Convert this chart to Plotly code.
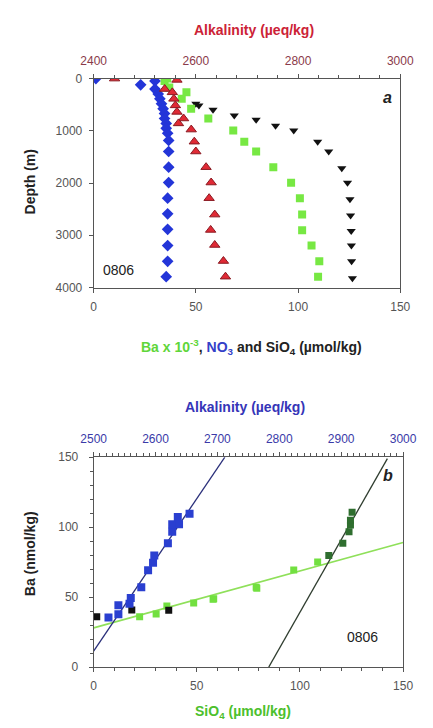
import plotly.graph_objects as go

# ---------------- Panel a: depth profiles, station 0806 ----------------
# NO3 (umol/kg) vs depth (m)
no3_depth = [0, 45, 120, 200, 295, 388, 482, 576, 670, 764, 858, 952, 1046, 1183,
             1396, 1696, 1990, 2290, 2590, 2886, 3198, 3498, 3793]
no3_val = [1.1, 30.0, 23.0, 30.0, 31.6, 32.4, 33.2, 34.0, 34.7, 34.7, 35.5, 35.5, 36.2, 36.7,
           36.7, 36.7, 36.7, 36.2, 36.2, 36.2, 36.2, 36.2, 35.5]

# SiO4 (umol/kg) vs depth (m)
si_depth = [482, 513, 595, 707, 789, 901, 995, 1208, 1396, 1715, 1996, 2310, 2622, 2916, 3198, 3498, 3824]
si_val = [50.0, 51.5, 58.4, 68.8, 79.5, 89.0, 97.9, 109.6, 115.0, 121.4, 124.2, 125.4, 125.7, 126.0,
          126.1, 126.2, 126.6]

# Ba x 10^-3 vs depth (m)
ba_depth = [0, 45, 170, 263, 388, 576, 764, 995, 1208, 1396, 1696, 1996, 2291, 2604, 2904, 3198, 3498, 3793]
ba_val = [36.0, 34.7, 37.0, 45.4, 43.1, 47.7, 56.1, 68.3, 73.7, 79.5, 87.9, 96.6, 100.9, 102.0, 102.0,
          106.6, 110.4, 109.8]

# Alkalinity (ueq/kg) vs depth (m)
alk_depth = [0, 25, 200, 263, 388, 513, 638, 764, 858, 976, 1208, 1396, 1696, 1990, 2290, 2604, 2898,
             3186, 3493, 3793]
alk_val = [2441, 2563, 2539, 2554, 2557, 2560, 2563, 2576, 2566, 2591, 2597, 2600, 2620, 2630, 2626,
           2637, 2629, 2637, 2654, 2658]

# ---------------- Panel b: Ba correlations ----------------
# Ba (nmol/kg) vs alkalinity (ueq/kg)
b_alk = [2524, 2540, 2540, 2558, 2560, 2577, 2588, 2596, 2598, 2620, 2627, 2627, 2638, 2636, 2655]
b_alk_ba = [35.5, 37.8, 44.2, 45.3, 49.3, 57.0, 69.2, 74.5, 79.7, 88.5, 96.7, 102.1, 102.0, 107.2, 109.6]

# Ba (nmol/kg) vs SiO4 (umol/kg), upper waters
b_si = [22.3, 30.3, 35.5, 48.5, 57.9, 58.2, 78.8, 79.1, 97.0, 108.6]
b_si_ba = [36.0, 37.9, 43.7, 45.8, 48.4, 48.8, 57.0, 56.3, 69.4, 75.0]

# Ba (nmol/kg) vs SiO4 (umol/kg), deep waters
b_si_deep = [114.0, 120.8, 123.8, 124.5, 124.5, 125.3]
b_si_deep_ba = [79.7, 88.5, 96.7, 101.5, 105.0, 110.7]

# Surface samples
b_surf_si = [1.5, 18.5, 36.4]
b_surf_ba = [36.0, 40.7, 40.6]

# Regression lines (end points)
fit_alk_x = [2500, 2712]
fit_alk_y = [11.4, 150]
fit_si_x = [0, 150]
fit_si_y = [28, 89]
fit_deep_x = [84.9, 142.4]
fit_deep_y = [0, 149]

FONT = "Liberation Sans, Arial, sans-serif"
W, H = 433, 728

fig = go.Figure()

# Panel a traces
fig.add_trace(go.Scatter(x=si_val, y=si_depth, mode="markers", xaxis="x", yaxis="y",
                         marker=dict(symbol="triangle-down", size=8, color="#111111")))
fig.add_trace(go.Scatter(x=ba_val, y=ba_depth, mode="markers", xaxis="x", yaxis="y",
                         marker=dict(symbol="square", size=8, color="#77e843",
                                     line=dict(width=0))))
fig.add_trace(go.Scatter(x=alk_val, y=alk_depth, mode="markers", xaxis="x2", yaxis="y",
                         marker=dict(symbol="triangle-up", size=9, color="#e02a35",
                                     line=dict(width=1, color="#8a1a22"))))
fig.add_trace(go.Scatter(x=no3_val, y=no3_depth, mode="markers", xaxis="x", yaxis="y",
                         marker=dict(symbol="diamond", size=9, color="#2335d8")))

# Panel b traces
fig.add_trace(go.Scatter(x=fit_si_x, y=fit_si_y, mode="lines", xaxis="x3", yaxis="y2",
                         line=dict(color="#8fe05a", width=1.6)))
fig.add_trace(go.Scatter(x=fit_deep_x, y=fit_deep_y, mode="lines", xaxis="x3", yaxis="y2",
                         line=dict(color="#2f3d2f", width=1.3)))
fig.add_trace(go.Scatter(x=fit_alk_x, y=fit_alk_y, mode="lines", xaxis="x4", yaxis="y2",
                         line=dict(color="#2a2f7a", width=1.3)))
fig.add_trace(go.Scatter(x=b_si, y=b_si_ba, mode="markers", xaxis="x3", yaxis="y2",
                         marker=dict(symbol="square", size=7, color="#72e040")))
fig.add_trace(go.Scatter(x=b_si_deep, y=b_si_deep_ba, mode="markers", xaxis="x3", yaxis="y2",
                         marker=dict(symbol="square", size=7, color="#2f6e2f")))
fig.add_trace(go.Scatter(x=b_alk, y=b_alk_ba, mode="markers", xaxis="x4", yaxis="y2",
                         marker=dict(symbol="square", size=8, color="#2a3fd0")))
fig.add_trace(go.Scatter(x=b_surf_si, y=b_surf_ba, mode="markers", xaxis="x3", yaxis="y2",
                         marker=dict(symbol="square", size=7, color="#111111")))

tick_font = dict(family=FONT, size=12, color="#555555")
axis_common = dict(showgrid=False, zeroline=False, showline=True, linecolor="#555555",
                   linewidth=1, ticks="outside", ticklen=4, tickcolor="#555555",
                   tickfont=tick_font)

xa = [86 / W, 413 / W]
ya = [1 - 286 / H, 1 - 73 / H]
xb = [86 / W, 416 / W]
yb = [1 - 673 / H, 1 - 459 / H]

fig.update_layout(
    width=W, height=H, margin=dict(l=0, r=0, t=0, b=0),
    paper_bgcolor="white", plot_bgcolor="white", showlegend=False,
    font=dict(family=FONT),
    xaxis=dict(axis_common, domain=xa, range=[0, 150], anchor="y", tickvals=[0, 50, 100, 150],
               ticklabelstandoff=4),
    xaxis2=dict(axis_common, domain=xa, range=[2400, 3000], anchor="y", overlaying="x", side="top",
                tickvals=[2400, 2600, 2800, 3000],
                tickfont=dict(family=FONT, size=12, color="#8a3a4a"),
                minor=dict(dtick=40, ticks="outside", ticklen=3, tickcolor="#555555"),
                ticklabelstandoff=4),
    yaxis=dict(axis_common, domain=ya, range=[4000, 0], anchor="x", mirror=True,
               tickvals=[0, 1000, 2000, 3000, 4000], ticklabelstandoff=4),
    xaxis3=dict(axis_common, domain=xb, range=[0, 150], anchor="y2", tickvals=[0, 50, 100, 150],
                minor=dict(dtick=10, ticks="outside", ticklen=3, tickcolor="#555555"),
                ticklabelstandoff=4),
    xaxis4=dict(axis_common, domain=xb, range=[2500, 3000], anchor="y2", overlaying="x3",
                side="top", tickvals=[2500, 2600, 2700, 2800, 2900, 3000],
                tickfont=dict(family=FONT, size=12, color="#3a3aa8"),
                minor=dict(dtick=10, ticks="outside", ticklen=3, tickcolor="#555555"),
                ticklabelstandoff=4),
    yaxis2=dict(axis_common, domain=yb, range=[0, 150], anchor="x3", mirror=True,
                tickvals=[0, 50, 100, 150],
                minor=dict(dtick=10, ticks="outside", ticklen=3, tickcolor="#555555"),
                ticklabelstandoff=8),
)

title_font = dict(family=FONT, size=14, color="#222222")


def label(text, x, y, color="#222222", size=14, angle=0, bold=True):
    fig.add_annotation(text=f"<b>{text}</b>" if bold else text, x=x / W, y=1 - y / H,
                       xref="paper", yref="paper", showarrow=False, textangle=angle,
                       font=dict(family=FONT, size=size, color=color),
                       xanchor="center", yanchor="middle")


label("Alkalinity (µeq/kg)", 257, 23, color="#cc2236")
label('<span style="color:#5fd63a">Ba x 10<sup>-3</sup></span>, '
      '<span style="color:#3340c8">NO<sub>3</sub></span> and SiO<sub>4</sub> (µmol/kg)',
      254, 347)
label("Depth (m)", 18, 178, angle=-90)
label("<i>a</i>", 399, 92, size=16)
label("0806", 113, 268, size=14, bold=False, color="#222222")

label("Alkalinity (µeq/kg)", 247, 408, color="#3535b8")
label("SiO<sub>4</sub> (µmol/kg)", 245, 719, color="#4cc02c")
label("Ba (nmol/kg)", 18, 557, angle=-90)
label("<i>b</i>", 400, 478, size=16)
label("0806", 373, 642, size=14, bold=False, color="#222222")

fig.write_html("out.html")
